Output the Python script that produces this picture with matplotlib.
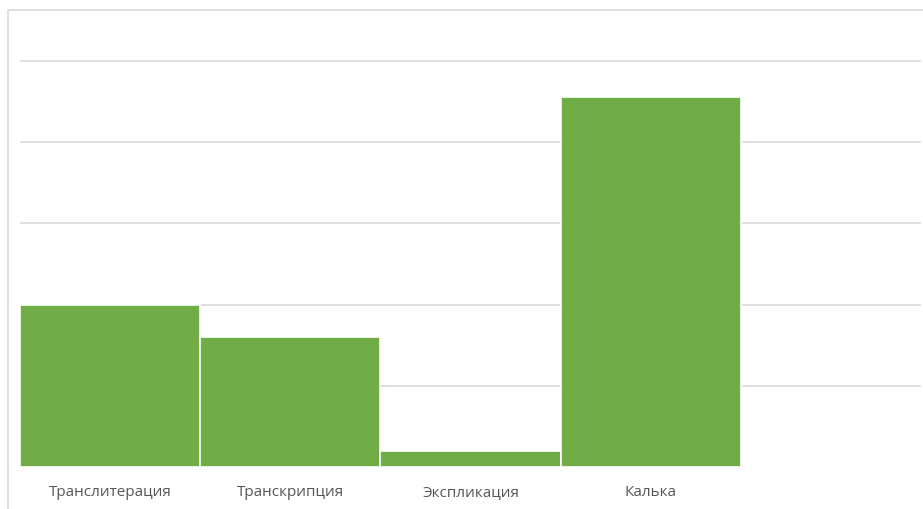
"""
Bar chart: translation techniques (green columns, light grid).
"""

import matplotlib.pyplot as plt
from matplotlib.patches import Rectangle

categories = ["Транслитерация", "Транскрипция", "Экспликация", "Калька"]
counts = [10, 8, 1, 22.8]
grid_ticks = [5, 10, 15, 20, 25]

W, H = 923, 510
fig = plt.figure(figsize=(W / 100, H / 100), dpi=100)

# outer chart frame (light grey border, runs off the right and bottom edges)
fig.patches.append(Rectangle((8 / W, -0.05), 1.0, (H - 11) / H + 0.05,
                             transform=fig.transFigure, fill=False,
                             edgecolor="#d9d9d9", lw=1.2))

# plot area in pixel units
left, right, bottom, top = 20, 921, 468, 11
ax = fig.add_axes([left / W, (H - bottom) / H, (right - left) / W, (bottom - top) / H])

px_per_unit = (468 - 62) / 25
ax.set_ylim(0, (bottom - top) / px_per_unit)
ax.set_xlim(-0.5, 4.5)

ax.bar(range(len(categories)), counts, width=1.0, color="#70AD47",
       edgecolor="white", linewidth=1.2, zorder=3)

ax.set_yticks(grid_ticks)
ax.yaxis.grid(True, color="#d9d9d9", lw=1.2, zorder=0)
ax.tick_params(axis="y", left=False, labelleft=False)
ax.set_xticks(range(len(categories)))
ax.set_xticklabels(categories, fontsize=11, color="#555555", family="Open Sans")
ax.tick_params(axis="x", bottom=False, pad=9)

for s in ax.spines.values():
    s.set_visible(False)

fig.savefig("out.png", dpi=100, facecolor="white")
